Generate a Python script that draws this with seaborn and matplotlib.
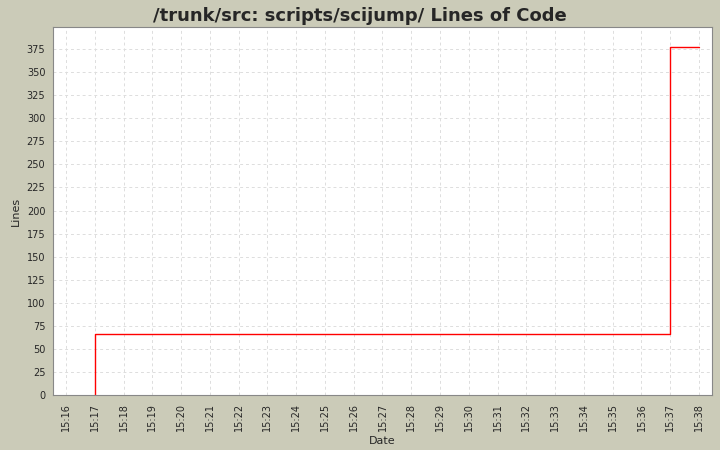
import matplotlib
matplotlib.use("Agg")
import matplotlib.pyplot as plt
import seaborn as sns
import pandas as pd

# minutes past 15:00
minutes = [17, 17, 37, 38]
lines = [0, 66, 377, 377]
tick_minutes = list(range(16, 39))
tick_labels = [f"15:{m:02d}" for m in tick_minutes]

sns.set_style("white")
plt.rcParams['font.family'] = ['DejaVu Sans']

fig = plt.figure(figsize=(7.2, 4.5), dpi=100, facecolor='#cbcbb8')
ax = fig.add_axes([53 / 720, 55 / 450, 659 / 720, 368 / 450])
ax.set_facecolor('white')

df = pd.DataFrame({"Date": minutes, "Lines": lines})
sns.lineplot(data=df, x="Date", y="Lines", ax=ax, estimator=None, sort=False,
             drawstyle="steps-post", color="#ff0000", linewidth=1)

ax.set_xlim(15.55, 38.45)
ax.set_ylim(0, 399)
ax.set_xticks(tick_minutes)
ax.set_xticklabels(tick_labels, rotation=90, fontsize=7)
ax.set_yticks(range(0, 376, 25))
ax.tick_params(axis='y', labelsize=7, length=2)
ax.tick_params(axis='x', length=2)
ax.grid(True, color='#dddddd', linestyle=(0, (3, 3)), linewidth=0.7)
for s in ax.spines.values():
    s.set_color('#888888')
    s.set_linewidth(0.8)
ax.set_xlabel("Date", fontsize=8)
ax.set_ylabel("Lines", fontsize=8)
fig.suptitle("/trunk/src: scripts/scijump/ Lines of Code", fontsize=13,
             fontweight='bold', y=0.985)

fig.savefig("out.png", dpi=100, facecolor=fig.get_facecolor())
